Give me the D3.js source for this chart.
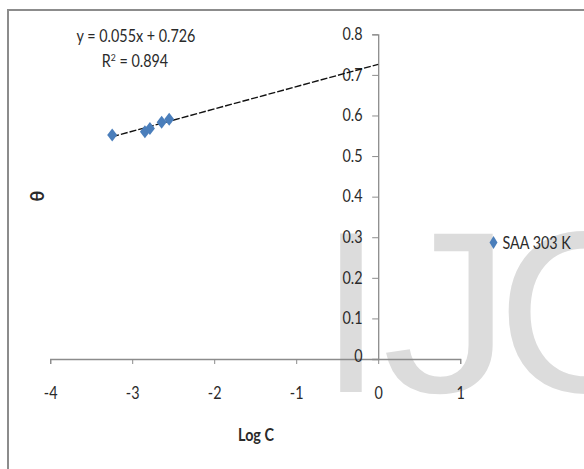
<!DOCTYPE html>
<html>
<head>
<meta charset="utf-8">
<script src="https://cdn.jsdelivr.net/npm/d3@7"></script>
<style>
  html, body { margin: 0; padding: 0; background: #fff; }
  svg { display: block; }
  text { font-family: Lato, "Open Sans", "Liberation Sans", sans-serif; fill: #2a2a2a; }
</style>
</head>
<body>
<svg id="chart" width="584" height="469"></svg>
<script>
// Surface coverage (θ) against log of inhibitor concentration
const logC = [-3.244, -2.845, -2.784, -2.641, -2.549];
const theta = [0.552, 0.560, 0.568, 0.583, 0.591];
const seriesName = "SAA 303 K";
const slope = 0.055, intercept = 0.726, rSquared = 0.894;
const xTicks = [-4, -3, -2, -1, 0, 1];
const yTicks = [0, 0.1, 0.2, 0.3, 0.4, 0.5, 0.6, 0.7, 0.8];

const SX = 0.87;          // narrow the glyphs horizontally
const FS = "16.5px";
const blue = "#4a7ebb";
const axisColor = "#8c8c8c";
const ink = "#2a2a2a";

const svg = d3.select("#chart");

const x = d3.scaleLinear().domain([-4, 1]).range([50.2, 460.2]);
const y = d3.scaleLinear().domain([0, 0.8]).range([359, 34.3]);

// frame
svg.append("path")
  .attr("d", "M8,469 L8,10 L584,10")
  .attr("fill", "none").attr("stroke", axisColor).attr("stroke-width", 2);

// watermark letters
const wm = svg.append("g")
  .style("font-family", "'Liberation Sans', Arial, sans-serif")
  .style("font-size", "230px");
[["I", 319, 1], ["J", 382, 1.13], ["C", 497, 1]].forEach(([ch, px, sx]) => {
  wm.append("text").attr("transform", `translate(${px},392) scale(${sx},1)`)
    .style("font-family", "'Liberation Sans', Arial, sans-serif")
    .style("fill", "#dcdcdc").text(ch);
});

const fmtX = d => String(d);                       // plain hyphen minus
const fmtY = d => d === 0 ? "0" : d.toFixed(1);

// x axis at θ = 0
const xAxis = svg.append("g")
  .attr("transform", `translate(0,${y(0)})`)
  .call(d3.axisBottom(x).tickValues(xTicks).tickSize(5).tickPadding(23).tickFormat(fmtX));
xAxis.select(".domain").attr("stroke", axisColor).attr("stroke-width", 1.3);
xAxis.selectAll(".tick line").attr("stroke", axisColor);
xAxis.selectAll("text")
  .style("font-size", FS).style("fill", ink).style("font-family", "Lato, sans-serif")
  .attr("transform", `scale(${SX},1)`);

// y axis at log C = 0
const yAxis = svg.append("g")
  .attr("transform", `translate(${x(0)},0)`)
  .call(d3.axisLeft(y).tickValues(yTicks).tickSize(6).tickPadding(12).tickFormat(fmtY));
yAxis.select(".domain").attr("stroke", axisColor).attr("stroke-width", 1.3);
yAxis.selectAll(".tick line").attr("stroke", axisColor);
yAxis.selectAll("text")
  .style("font-size", FS).style("fill", ink).style("font-family", "Lato, sans-serif")
  .attr("transform", d => d === 0 ? `translate(0,-3) scale(${SX},1)` : `scale(${SX},1)`);

// linear trendline, extended forward to log C = 0
const trendX = [d3.min(logC), 0];
svg.append("line")
  .attr("x1", x(trendX[0])).attr("y1", y(slope * trendX[0] + intercept))
  .attr("x2", x(trendX[1])).attr("y2", y(slope * trendX[1] + intercept))
  .attr("stroke", "#111").attr("stroke-width", 1.4).attr("stroke-dasharray", "7,2");

// data markers
const diamond = "M0,-6.5 L5,0 L0,6.5 L-5,0 Z";
svg.append("g").selectAll("path")
  .data(logC.map((v, i) => [v, theta[i]]))
  .join("path")
  .attr("d", diamond)
  .attr("transform", d => `translate(${x(d[0])},${y(d[1])})`)
  .attr("fill", blue);

// helper for narrowed free-standing labels
function label(px, py, anchor) {
  return svg.append("text")
    .attr("transform", `translate(${px},${py}) scale(${SX},1)`)
    .attr("text-anchor", anchor)
    .style("font-size", FS);
}

// regression annotation
label(136, 42, "middle").text(`y = ${slope}x + ${intercept}`);
const r2 = label(135, 67, "middle");
r2.append("tspan").text("R");
r2.append("tspan").attr("dy", -6).style("font-size", "10px").text("2");
r2.append("tspan").attr("dy", 6).text(` = ${rSquared}`);

// axis titles
svg.append("text").attr("transform", "translate(44,196) rotate(-90)").attr("text-anchor", "middle")
  .style("font-size", "18px").style("font-weight", "bold").text("θ");
label(256, 441, "middle").style("font-weight", "bold").text("Log C");

// legend
svg.append("path").attr("d", "M0,-6.5 L4,0 L0,6.5 L-4,0 Z").attr("transform", "translate(493.5,242.5)").attr("fill", blue);
label(502.5, 248.5, "start").text(seriesName);
</script>
</body>
</html>
